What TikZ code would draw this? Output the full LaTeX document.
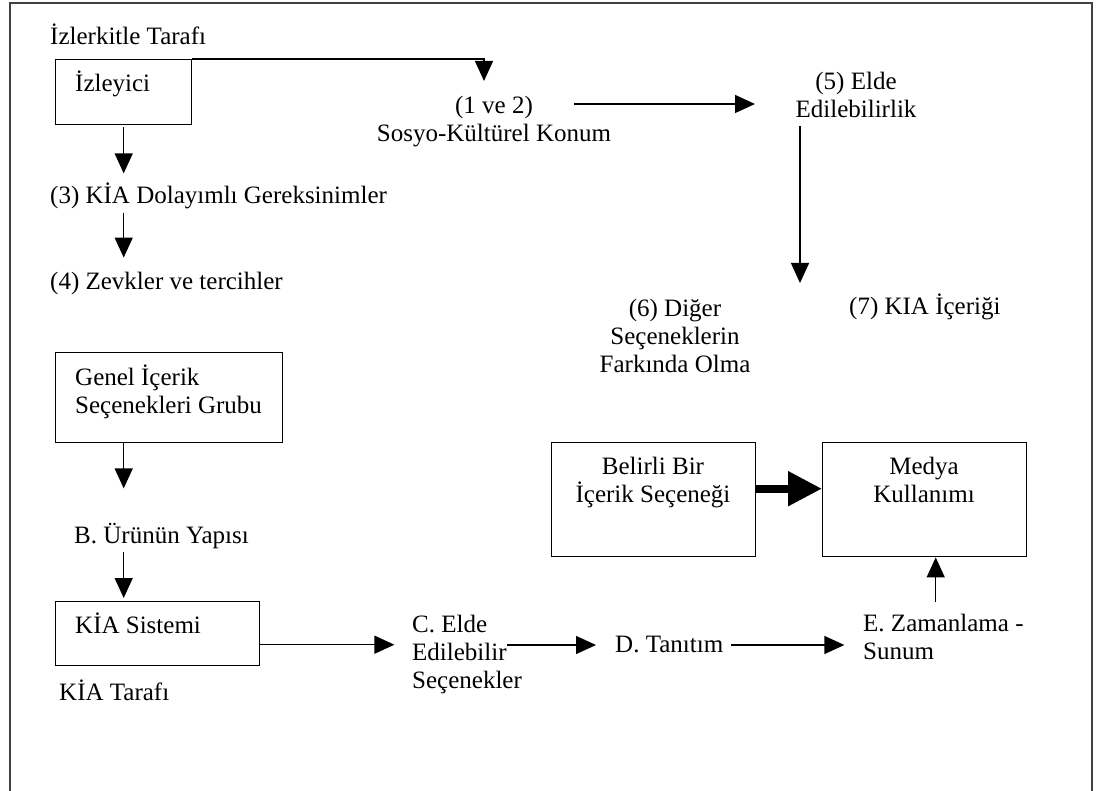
\documentclass[tikz,border=0pt]{standalone}
\usepackage{fontspec}
\setmainfont{Liberation Serif}
\usetikzlibrary{arrows.meta,calc}
\begin{document}
\begin{tikzpicture}[x=1pt,y=-1pt,
  every node/.style={font=\fontsize{25}{28}\selectfont, inner sep=0pt},
  box/.style={draw, line width=1.4pt, anchor=north west},
  arr/.style={line width=1.4pt, -{Triangle[length=20pt,width=18pt]}},
  bigarr/.style={line width=8pt, -{Triangle[length=34pt,width=33pt]}},
  lbl/.style={anchor=base west, align=left},
  clbl/.style={anchor=base, align=center}]
\useasboundingbox (0,0) rectangle (1097,791);
% outer frame
\draw[line width=1.5pt, black!75] (10,791) -- (10,3) -- (1092,3) -- (1092,791);
% boxes
\node[box, minimum width=136pt, minimum height=65pt] (izl) at (55,59) {};
\node[box, minimum width=227pt, minimum height=90pt] (genel) at (55,352) {};
\node[box, minimum width=204pt, minimum height=64pt] (kia) at (55,601) {};
\node[box, minimum width=204pt, minimum height=114pt] (bel) at (551,442) {};
\node[box, minimum width=204pt, minimum height=114pt] (med) at (822,442) {};
% texts (base = baseline of the last line)
\node[lbl] (side1) at (50,45) {İzlerkitle Tarafı};
\node[lbl] (izlt) at (75,92) {İzleyici};
\node[clbl] (soc) at (494,142) {(1 ve 2)\\Sosyo-Kültürel Konum};
\node[lbl] (n3) at (50,204) {(3) KİA Dolayımlı Gereksinimler};
\node[lbl] (n4) at (50,290) {(4) Zevkler ve tercihler};
\node[clbl] (n5) at (856,118) {(5) Elde\\Edilebilirlik};
\node[clbl] (n6) at (675,372) {(6) Diğer\\Seçeneklerin\\Farkında Olma};
\node[lbl] (n7) at (849,315) {(7) KIA İçeriği};
\node[lbl] (genelt) at (75,413) {Genel İçerik\\Seçenekleri Grubu};
\node[lbl] (nB) at (74,543) {B. Ürünün Yapısı};
\node[lbl] (kiat) at (75,633) {KİA Sistemi};
\node[lbl] (kiaside) at (59,700) {KİA Tarafı};
\node[lbl] (nC) at (412,688) {C. Elde\\Edilebilir\\Seçenekler};
\node[lbl] (nD) at (615,652) {D. Tanıtım};
\node[lbl] (nE) at (863,659) {E. Zamanlama -\\Sunum};
\node[clbl] (belt) at (653,502) {Belirli Bir\\İçerik Seçeneği};
\node[clbl] (medt) at (924,502) {Medya\\Kullanımı};
% connectors
\coordinate (topc) at (484,81);
\draw[arr] (izl.north east) -| (topc);
\draw[arr] ([yshift=-2pt]izl.south) -- ([yshift=-48pt]izl.south);
\draw[arr] ([yshift=-3pt]n3.south -| izl.south) -- ++(0,45);
\draw[arr] (genel.south -| izl.south) -- ++(0,45);
\draw[arr] ([yshift=-3pt]nB.south -| izl.south) -- ([yshift=3pt]kia.north -| izl.south);
\draw[arr] ([yshift=-11pt]kia.east) -- ++(134,0);
\draw[arr] (nC.base west) ++(95,-43) -- ++(89,0);
\draw[arr] (nD.base east) ++(8,-7) -- ++(113,0);
\draw[arr] ([xshift=11pt,yshift=-45pt]med.south) -- ([xshift=11pt]med.south);
\draw[bigarr] ([yshift=11pt]bel.east) -- ([yshift=11pt]med.west);
\draw[arr] (soc.base) ++(80,-38) -- ++(181,0);
\coordinate (d6) at (800,283);
\draw[arr] (n5.base) ++(-56,8) -- (d6);
\end{tikzpicture}
\end{document}
